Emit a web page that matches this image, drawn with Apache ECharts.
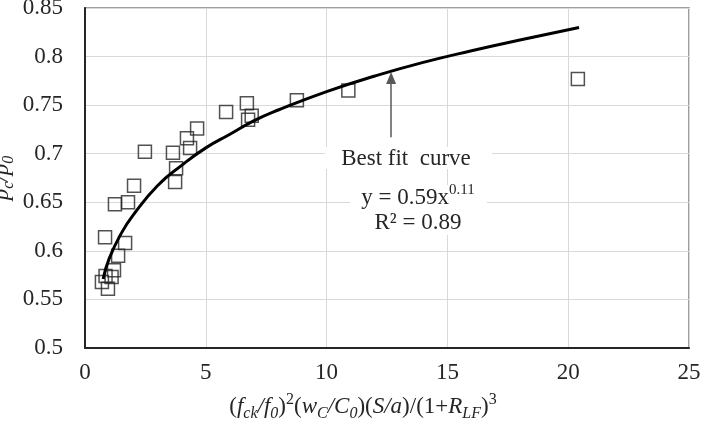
<!DOCTYPE html>
<html>
<head>
<meta charset="utf-8">
<script src="https://cdn.jsdelivr.net/npm/echarts@6/dist/echarts.min.js"></script>
<style>
html, body { margin: 0; padding: 0; background: #fff; }
#chart { width: 704px; height: 427px; }
</style>
</head>
<body>
<div id="chart"></div>
<script>
// measured points (x, y)
var pointX = [0.70, 0.95, 1.10, 0.85, 1.20, 1.37, 1.66, 0.83, 1.24, 1.78, 2.03, 2.48, 3.64, 3.73, 3.77, 4.35, 4.22, 4.64, 5.84, 6.70, 6.90, 6.75, 8.77, 10.9, 20.4];
var pointY = [0.568, 0.561, 0.573, 0.574, 0.580, 0.595, 0.608, 0.614, 0.648, 0.650, 0.667, 0.702, 0.701, 0.671, 0.685, 0.706, 0.716, 0.726, 0.743, 0.752, 0.739, 0.735, 0.755, 0.765, 0.777];

// best fit curve
var curveX = [0.75, 1.0, 1.5, 2.0, 3.0, 4.0, 5.0, 6.0, 7.0, 8.0, 10.0, 12.0, 14.0, 16.0, 18.0, 20.45];
var curveY = [0.571, 0.592, 0.618, 0.637, 0.667, 0.688, 0.706, 0.720, 0.734, 0.745, 0.764, 0.780, 0.794, 0.806, 0.817, 0.830];

var xTicks = [0, 5, 10, 15, 20, 25];
var yTicks = ['0.5', '0.55', '0.6', '0.65', '0.7', '0.75', '0.8', '0.85'];

var FONT = 'Liberation Serif';
var TXT = '#262626';

function pairs(xs, ys) {
    var out = [];
    for (var i = 0; i < xs.length; i++) out.push([xs[i], ys[i]]);
    return out;
}

var base = { fontFamily: FONT, fontSize: 23, color: TXT };
var it = { fontFamily: FONT, fontSize: 23, color: TXT, fontStyle: 'italic' };
var sub = { fontFamily: FONT, fontSize: 16, color: TXT, fontStyle: 'italic', verticalAlign: 'bottom', lineHeight: 30 };
var sup = { fontFamily: FONT, fontSize: 16, color: TXT, verticalAlign: 'top', lineHeight: 28 };

var richX = { n: base, i: it, s: sub, p: sup };
var xName = '{n|(}{i|f}{s|ck}{i|/f}{s|0}{n|)}{p|2}{n|(}{i|w}{s|C}{i|/C}{s|0}{n|)(}{i|S/a}{n|)/(1+}{i|R}{s|LF}{n|)}{p|3}';
var yName = '{i|p}{s|c}{i|/p}{s|0}';

var myChart = echarts.init(document.getElementById('chart'));
var option = {
    animation: false,
    backgroundColor: '#fff',
    grid: {
        left: 85, top: 8, right: 15, bottom: 79,
        containLabel: false, outerBoundsMode: 'none',
        show: true, borderColor: '#7f7f7f', borderWidth: 1.5
    },
    xAxis: {
        type: 'value', min: 0, max: 25, interval: 5,
        name: xName,
        nameLocation: 'middle', nameGap: 44, nameMoveOverlap: false,
        nameTextStyle: { rich: richX, padding: [0, 48, 0, 0] },
        axisLine: { show: true, lineStyle: { color: '#262626', width: 2 } },
        axisTick: { show: false },
        axisLabel: {
            margin: 13, fontFamily: FONT, fontSize: 23, color: TXT,
            formatter: function (v) { return xTicks.indexOf(v) >= 0 ? String(v) : ''; }
        },
        splitLine: { show: true, lineStyle: { color: '#d9d9d9', width: 1 } }
    },
    yAxis: {
        type: 'value', min: 0.5, max: 0.85, interval: 0.05,
        name: yName,
        nameLocation: 'middle', nameGap: 68, nameRotate: 90, nameMoveOverlap: false,
        nameTextStyle: { rich: richX },
        axisLine: { show: true, lineStyle: { color: '#262626', width: 2 } },
        axisTick: { show: false },
        axisLabel: {
            margin: 22, fontFamily: FONT, fontSize: 23, color: TXT,
            formatter: function (v) {
                var s = String(Math.round(v * 100) / 100);
                return yTicks.indexOf(s) >= 0 ? s : '';
            }
        },
        splitLine: { show: true, lineStyle: { color: '#d9d9d9', width: 1 } }
    },
    series: [
        {
            name: 'data', type: 'scatter',
            data: pairs(pointX, pointY),
            symbol: 'rect', symbolSize: 13,
            itemStyle: { color: 'rgba(255,255,255,0)', borderColor: '#262626', borderWidth: 1.5 },
            z: 3
        },
        {
            name: 'fit', type: 'line',
            data: pairs(curveX, curveY),
            smooth: true, showSymbol: false, symbol: 'none',
            lineStyle: { color: '#000', width: 3 },
            z: 4,
            markLine: {
                silent: true,
                symbol: ['none', 'triangle'],
                symbolSize: [10, 12],
                label: { show: false },
                lineStyle: { color: '#595959', width: 1.5, type: 'solid' },
                data: [[{ coord: [12.67, 0.717] }, { coord: [12.67, 0.778] }]]
            }
        }
    ],
    graphic: [
        {
            type: 'rect', shape: { x: 325, y: 147, width: 167, height: 22 },
            style: { fill: '#fff' }, z: 10
        },
        {
            type: 'text', x: 406, y: 159, z: 11,
            style: {
                text: 'Best fit  curve', fontFamily: FONT, fontSize: 23, fill: TXT,
                align: 'center', verticalAlign: 'middle'
            }
        },
        {
            type: 'rect', shape: { x: 350, y: 185, width: 137, height: 50 },
            style: { fill: '#fff' }, z: 10
        },
        {
            type: 'text', x: 418, y: 198, z: 11,
            style: {
                text: '{n|y = 0.59x}{p|0.11}', align: 'center', verticalAlign: 'middle',
                rich: {
                    n: { fontFamily: FONT, fontSize: 23, fill: TXT, color: TXT },
                    p: { fontFamily: FONT, fontSize: 15, fill: TXT, color: TXT, verticalAlign: 'top', lineHeight: 30 }
                }
            }
        },
        {
            type: 'text', x: 418, y: 223, z: 11,
            style: {
                text: 'R² = 0.89', fontFamily: FONT, fontSize: 23, fill: TXT,
                align: 'center', verticalAlign: 'middle'
            }
        }
    ]
};
myChart.setOption(option);
</script>
</body>
</html>
